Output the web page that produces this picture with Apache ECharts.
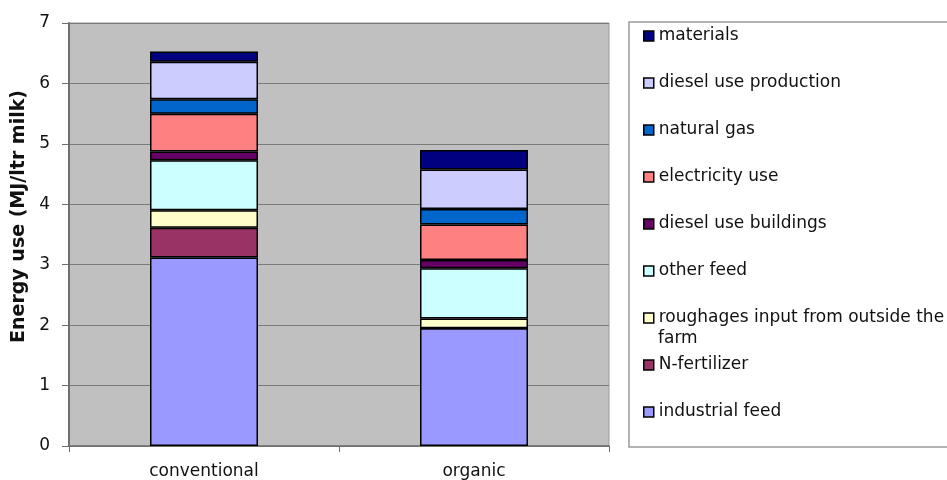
<!DOCTYPE html>
<html>
<head>
<meta charset="utf-8">
<script src="https://cdn.jsdelivr.net/npm/echarts@6/dist/echarts.min.js"></script>
<style>
  html, body { margin: 0; padding: 0; background: #fff; }
  #chart { width: 947px; height: 480px; }
</style>
</head>
<body>
<div id="chart"></div>
<script>
// data
const categories = ['conventional', 'organic']
const seriesNames = [
  'industrial feed',
  'N-fertilizer',
  'roughages input from outside the farm',
  'other feed',
  'diesel use buildings',
  'electricity use',
  'natural gas',
  'diesel use production',
  'materials'
]
const industrialFeed = [3.12, 1.95]
const nFertilizer = [0.49, 0]
const roughages = [0.29, 0.16]
const otherFeed = [0.83, 0.83]
const dieselBuildings = [0.145, 0.14]
const electricity = [0.625, 0.585]
const naturalGas = [0.24, 0.255]
const dieselProduction = [0.62, 0.655]
const materials = [0.17, 0.325]
const yTicks = [0, 1, 2, 3, 4, 5, 6, 7]

const values = [industrialFeed, nFertilizer, roughages, otherFeed, dieselBuildings,
  electricity, naturalGas, dieselProduction, materials]
const colors = ['#9999FF', '#993366', '#FFFFCC', '#CCFFFF', '#660066',
  '#FF8080', '#0066CC', '#CCCCFF', '#000080']

const font = 'DejaVu Sans'

const chart = echarts.init(document.getElementById('chart'))
chart.setOption({
  backgroundColor: '#fff',
  animation: false,
  textStyle: { fontFamily: font },
  grid: {
    left: 69,
    top: 23,
    right: 338,
    bottom: 34,
    show: true,
    backgroundColor: '#C0C0C0',
    borderColor: '#9a9a9a',
    borderWidth: 1
  },
  graphic: [
    {
      type: 'rect',
      z: -1,
      shape: { x: 629, y: 22, width: 340, height: 425 },
      style: { fill: '#fff', stroke: '#9a9a9a', lineWidth: 1.5 }
    },
    {
      // second line of the wrapped legend entry
      type: 'text',
      x: 658,
      y: 339,
      style: {
        text: 'farm',
        font: '17px "DejaVu Sans"',
        fill: '#111',
        verticalAlign: 'middle'
      }
    }
  ],
  legend: {
    orient: 'vertical',
    left: 643,
    top: 26,
    padding: 0,
    itemWidth: 10,
    itemHeight: 10,
    itemGap: 27,
    icon: 'rect',
    data: seriesNames.slice().reverse(),
    formatter: name => name === seriesNames[2] ? 'roughages input from outside the' : name,
    textStyle: { fontSize: 17, lineHeight: 20, color: '#111', fontFamily: font },
    itemStyle: { borderColor: '#000', borderWidth: 1.5 }
  },
  xAxis: {
    type: 'category',
    data: categories,
    axisLine: { lineStyle: { color: '#6e6e6e', width: 1.5 } },
    axisTick: { show: true, length: 6, lineStyle: { color: '#6e6e6e' } },
    axisLabel: { fontSize: 17, color: '#111', margin: 17, fontFamily: font }
  },
  yAxis: {
    type: 'value',
    min: 0,
    max: 7,
    interval: 1,
    name: 'Energy use (MJ/ltr milk)',
    nameLocation: 'middle',
    nameGap: 36,
    nameTextStyle: {
      fontSize: 19,
      fontWeight: 'bold',
      color: '#111',
      fontFamily: font,
      padding: [0, 0, 0, 36]
    },
    axisLine: { show: true, lineStyle: { color: '#6e6e6e', width: 2 } },
    axisTick: { show: true, length: 7, lineStyle: { color: '#6e6e6e' } },
    axisLabel: {
      fontSize: 17,
      color: '#111',
      margin: 19,
      fontFamily: font,
      formatter: v => yTicks.includes(v) ? String(v) : ''
    },
    splitLine: { lineStyle: { color: '#7a7a7a', width: 1 } }
  },
  series: seriesNames.map((name, i) => ({
    name: name,
    type: 'bar',
    stack: 'energy',
    barWidth: '40%',
    data: values[i],
    itemStyle: { color: colors[i], borderColor: '#000', borderWidth: 1.5 }
  }))
})
</script>
</body>
</html>
